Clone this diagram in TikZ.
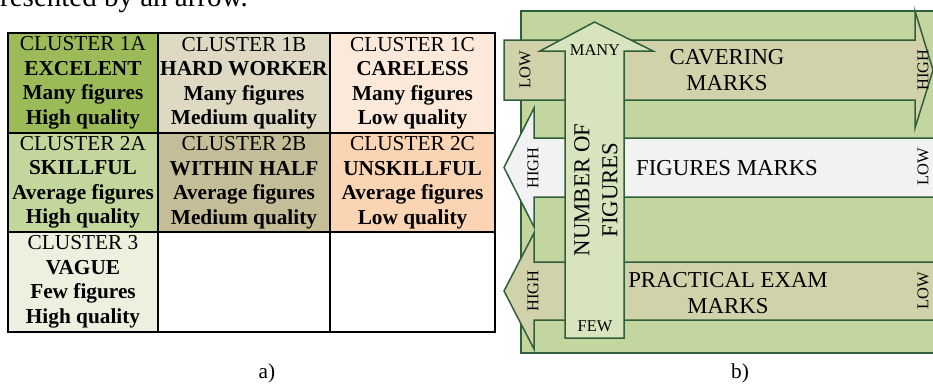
\documentclass[tikz,border=0pt]{standalone}
\usepackage{fontspec}
\setmainfont{Liberation Serif}
\definecolor{cA}{HTML}{9BBB59}
\definecolor{cB}{HTML}{DDD9C3}
\definecolor{cC}{HTML}{FDE9D9}
\definecolor{cDA}{HTML}{C3D69B}
\definecolor{cDB}{HTML}{C4BD97}
\definecolor{cDC}{HTML}{FBD4B4}
\definecolor{cE}{HTML}{EBF1DE}
\definecolor{bgG}{HTML}{C4D6A0}
\definecolor{tanA}{HTML}{D1D2AA}
\definecolor{lightA}{HTML}{F2F2F2}
\definecolor{vertA}{HTML}{D8E4BD}
\definecolor{edgeG}{HTML}{2F5F3A}
\begin{document}
\begin{tikzpicture}[x=1pt,y=-1pt,
  cell/.style={draw=black,line width=2.7pt,inner sep=0pt,align=center,
    font=\fontsize{21.3}{24.5}\selectfont},
  arr/.style={draw=edgeG,line width=1.5pt,line join=miter},
  big/.style={align=center,inner sep=0pt,font=\fontsize{22.8}{26.5}\selectfont},
  small/.style={inner sep=0pt,font=\fontsize{16.4}{18}\selectfont},
  sublabel/.style={inner sep=0pt,font=\fontsize{21.3}{24}\selectfont}]
\useasboundingbox (0,0) rectangle (933,383);
\clip (0,0) rectangle (933,383);
% top partial text line
\node[anchor=base west,inner sep=0pt,font=\fontsize{29}{30}\selectfont] (toptext) at (0,6) {resented by an arrow.};
% ---- table a)
\node[cell,fill=cA,minimum width=150pt,minimum height=100pt] (c1a) at (83,83)
  {CLUSTER 1A\\\textbf{EXCELENT}\\\textbf{Many figures}\\\textbf{High quality}};
\node[cell,fill=cB,minimum width=172pt,minimum height=100pt] (c1b) at (244,83)
  {CLUSTER 1B\\\textbf{HARD WORKER}\\\textbf{Many figures}\\\textbf{Medium quality}};
\node[cell,fill=cC,minimum width=165pt,minimum height=100pt] (c1c) at (412.5,83)
  {CLUSTER 1C\\\textbf{CARELESS}\\\textbf{Many figures}\\\textbf{Low quality}};
\node[cell,fill=cDA,minimum width=150pt,minimum height=99pt] (c2a) at (83,182.5)
  {CLUSTER 2A\\\textbf{SKILLFUL}\\\textbf{Average figures}\\\textbf{High quality}};
\node[cell,fill=cDB,minimum width=172pt,minimum height=99pt] (c2b) at (244,182.5)
  {CLUSTER 2B\\\textbf{WITHIN HALF}\\\textbf{Average figures}\\\textbf{Medium quality}};
\node[cell,fill=cDC,minimum width=165pt,minimum height=99pt] (c2c) at (412.5,182.5)
  {CLUSTER 2C\\\textbf{UNSKILLFUL}\\\textbf{Average figures}\\\textbf{Low quality}};
\node[cell,fill=cE,minimum width=150pt,minimum height=100pt] (c3a) at (83,282)
  {CLUSTER 3\\\textbf{VAGUE}\\\textbf{Few figures}\\\textbf{High quality}};
\node[cell,fill=white,minimum width=172pt,minimum height=100pt] (c3b) at (244,282) {};
\node[cell,fill=white,minimum width=165pt,minimum height=100pt] (c3c) at (412.5,282) {};
\node[sublabel] (labA) at (267,373) {a)};
% ---- diagram b)
\filldraw[arr,fill=bgG] (521,11) rectangle (950,353);
\filldraw[arr,fill=tanA] (504,40) -- (915,40) -- (915,11) -- (933,70) -- (915,128)
  -- (915,100) -- (504,100) -- cycle;
\filldraw[arr,fill=lightA] (504,167.5) -- (534,108) -- (534,138) -- (950,138)
  -- (950,197) -- (534,197) -- (534,227) -- cycle;
\filldraw[arr,fill=tanA] (504,291) -- (534,233) -- (534,262) -- (950,262)
  -- (950,320) -- (534,320) -- (534,349) -- cycle;
\filldraw[arr,fill=vertA] (565,338) -- (565,51) -- (540,51) -- (594.5,22) -- (653,51)
  -- (624,51) -- (624,338) -- cycle;
\node[small,rotate=90] (lowT) at (525,70) {LOW};
\node[small] (many) at (595,50) {MANY};
\node[big] (cav) at (727,70) {CAVERING\\MARKS};
\node[small,rotate=90] (highT) at (923,70) {HIGH};
\node[small,rotate=90] (highM) at (533,168) {HIGH};
\node[big] (figm) at (727,168) {FIGURES MARKS};
\node[small,rotate=90] (lowM) at (923,167) {LOW};
\node[big,rotate=90,font=\fontsize{22.8}{28}\selectfont] (nof) at (596,190) {NUMBER OF\\FIGURES};
\node[small,rotate=90] (highB) at (533,291) {HIGH};
\node[big] (prac) at (728,293) {PRACTICAL EXAM\\MARKS};
\node[small,rotate=90] (lowB) at (923,291) {LOW};
\node[small] (few) at (595,326) {FEW};
\node[sublabel] (labB) at (740,373) {b)};
\end{tikzpicture}
\end{document}
